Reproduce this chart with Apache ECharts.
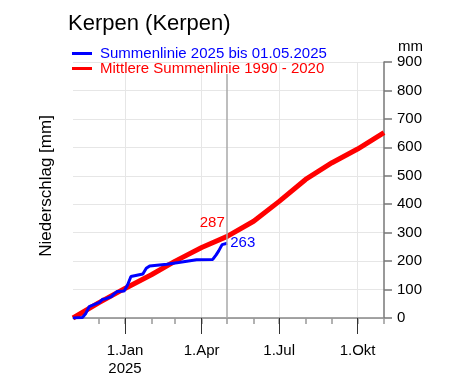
<!DOCTYPE html>
<html>
<head>
<meta charset="utf-8">
<script src="https://cdn.jsdelivr.net/npm/echarts@6/dist/echarts.min.js"></script>
<style>html,body{margin:0;padding:0;background:#fff}#c{width:450px;height:386px}</style>
</head>
<body>
<div id="c"></div>
<script>
// ---- data ----
const titleText = 'Kerpen (Kerpen)';
const blueName = 'Summenlinie 2025 bis 01.05.2025';
const redName = 'Mittlere Summenlinie 1990 - 2020';
const blueDates = ['2024-11-01','2024-11-12','2024-11-16','2024-11-20','2024-11-22','2024-12-02','2024-12-06','2024-12-09','2024-12-16','2024-12-19','2024-12-23','2024-12-31','2025-01-04','2025-01-08','2025-01-10','2025-01-22','2025-01-26','2025-01-30','2025-02-19','2025-03-05','2025-03-26','2025-04-14','2025-04-18','2025-04-21','2025-04-25','2025-04-27','2025-05-01'];
const blueValues = [0,2,16,40,46,55,66,67,75,84,93,95,116,146,153,155,175,183,189,195,205,206,222,236,258,263,263];
const redDates = ['2024-11-01','2024-12-01','2025-01-01','2025-02-01','2025-03-01','2025-04-01','2025-05-01','2025-06-01','2025-07-01','2025-08-01','2025-09-01','2025-10-01','2025-11-01'];
const redValues = [0,53,104,152,200,248,287,340,410,487,546,594,652];
const cutoffDate = '2025-05-01';
const axisStartDate = '2024-11-01';
const axisEndDate = '2025-11-01';
const monthTickDates = ['2024-12-01','2025-01-01','2025-02-01','2025-03-01','2025-04-01','2025-05-01','2025-06-01','2025-07-01','2025-08-01','2025-09-01','2025-10-01','2025-11-01'];
const majorTickDates = ['2025-01-01','2025-04-01','2025-07-01','2025-10-01'];
const majorTickLabels = ['1.Jan\n2025','1.Apr','1.Jul','1.Okt'];
const yTicks = [0,100,200,300,400,500,600,700,800,900];

// ---- helpers: dates -> day number since start ----
function ts(s){ const p = s.split('-').map(Number); return Date.UTC(p[0], p[1]-1, p[2]); }
function day(s){ return Math.round((ts(s) - ts(axisStartDate)) / 86400000); }
const monthTicks = monthTickDates.map(day);
const majorTicks = majorTickDates.map(day);
const xMin = day(axisStartDate), xMax = day(axisEndDate);
const cutoff = day(cutoffDate);
const font = 'Liberation Sans, Arial, sans-serif';

const blueData = blueDates.map((d,i)=>[day(d), blueValues[i]]);
const redData = redDates.map((d,i)=>{
  const item = {value:[day(d), redValues[i]]};
  if (d === cutoffDate) item.label = {show:true, formatter:String(redValues[i]), position:'top', offset:[-15,-1], color:'#ff0000', fontSize:15, fontFamily:font};
  return item;
});

const chart = echarts.init(document.getElementById('c'), null, {renderer:'canvas'});
chart.setOption({
  animation:false,
  backgroundColor:'#fff',
  textStyle:{fontFamily:font},
  title:{text:titleText, left:63, top:8, textStyle:{fontSize:22, fontWeight:'normal', color:'#000', fontFamily:font}},
  legend:{
    orient:'vertical', left:72, top:46, itemGap:0, itemWidth:20, itemHeight:3, icon:'rect', padding:0,
    textStyle:{fontSize:15, lineHeight:15, padding:[0,0,0,3], fontFamily:font},
    data:[{name:blueName, textStyle:{color:'#0000ff'}},{name:redName, textStyle:{color:'#ff0000'}}]
  },
  grid:{left:73, right:66, top:62, bottom:68},
  xAxis:[{
    type:'value', min:xMin, max:xMax, position:'bottom',
    axisLine:{show:true, onZero:false, lineStyle:{color:'#888', width:1.5}},
    axisTick:{show:true, customValues:monthTicks, length:6, lineStyle:{color:'#999', width:1.5}},
    axisLabel:{show:false},
    splitLine:{show:false}
  },{
    type:'value', min:xMin, max:xMax, position:'bottom',
    axisLine:{show:false, onZero:false},
    axisTick:{show:true, customValues:majorTicks, length:16, lineStyle:{color:'#333', width:1}},
    axisLabel:{show:true, customValues:majorTicks, margin:24, fontSize:15, lineHeight:18, color:'#000', fontFamily:font,
      formatter:function(v){ const i = majorTicks.indexOf(v); return i>=0 ? majorTickLabels[i] : ''; }},
    splitLine:{show:true, lineStyle:{color:'#e6e6e6', width:1}}
  }],
  yAxis:{
    type:'value', position:'right', min:yTicks[0], max:yTicks[yTicks.length-1], interval:100,
    name:'mm', nameLocation:'end', nameGap:4,
    nameTextStyle:{fontSize:15, color:'#000', align:'left', padding:[0,0,0,14], fontFamily:font},
    axisLine:{show:true, onZero:false, lineStyle:{color:'#777', width:1.5}},
    axisTick:{show:true, length:8, lineStyle:{color:'#777', width:1.5}},
    axisLabel:{fontSize:15, color:'#000', margin:13, fontFamily:font},
    splitLine:{show:true, lineStyle:{color:'#e6e6e6', width:1}}
  },
  graphic:[{
    type:'text', rotation:Math.PI/2, x:46, y:186,
    style:{text:'Niederschlag [mm]', fontSize:17, fill:'#000', fontFamily:font, align:'center', verticalAlign:'middle'}
  }],
  series:[{
    name:redName, type:'line', xAxisIndex:0, data:redData, showSymbol:true, showAllSymbol:true, symbol:'circle', symbolSize:0,
    lineStyle:{color:'#ff0000', width:5}, itemStyle:{color:'#ff0000'}, z:2,
    markLine:{silent:true, symbol:'none', label:{show:false}, lineStyle:{color:'#a8a8a8', width:1.5, type:'solid'},
      data:[[{coord:[cutoff,0]},{coord:[cutoff,858]}]]}
  },{
    name:blueName, type:'line', xAxisIndex:0, data:blueData, showSymbol:false, symbol:'none',
    lineStyle:{color:'#0000ff', width:3}, itemStyle:{color:'#0000ff'}, z:3,
    endLabel:{show:true, formatter:String(blueValues[blueValues.length-1]), color:'#0000ff', fontSize:15, distance:3, fontFamily:font}
  }]
});
</script>
</body>
</html>
